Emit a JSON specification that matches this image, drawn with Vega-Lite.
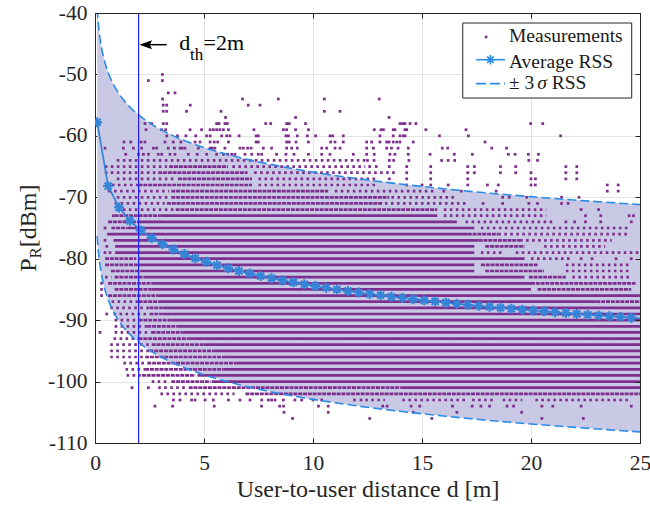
{
  "$schema": "https://vega.github.io/schema/vega-lite/v6.json",
  "width": 545,
  "height": 430,
  "autosize": {"type": "none"},
  "padding": {"left": 95, "top": 13, "right": 10, "bottom": 65},
  "background": "white",
  "config": {
    "view": {"stroke": null},
    "font": "Liberation Serif",
    "axis": {
      "labelFont": "Liberation Serif", "labelFontSize": 21.5, "labelColor": "#262626",
      "titleFont": "Liberation Serif", "titleFontSize": 24, "titleFontWeight": "normal", "titleColor": "#262626",
      "domainColor": "#262626", "domainWidth": 1, "tickColor": "#262626", "tickWidth": 1, "tickSize": -5,
      "gridColor": "#e4e4e4", "gridWidth": 1, "labelFlush": false, "labelOverlap": false
    }
  },
  "resolve": {"axis": {"x": "independent", "y": "independent"}},
  "datasets": {
    "curve": [
      {"x": 0.1, "hi": -39.3, "lo": -76.3},
      {"x": 0.12, "hi": -40.35, "lo": -77.35},
      {"x": 0.15, "hi": -41.64, "lo": -78.64},
      {"x": 0.2, "hi": -43.3, "lo": -80.3},
      {"x": 0.25, "hi": -44.59, "lo": -81.59},
      {"x": 0.3, "hi": -45.65, "lo": -82.65},
      {"x": 0.4, "hi": -47.31, "lo": -84.31},
      {"x": 0.5, "hi": -48.6, "lo": -85.6},
      {"x": 0.6, "hi": -49.65, "lo": -86.65},
      {"x": 0.7, "hi": -50.54, "lo": -87.54},
      {"x": 0.8, "hi": -51.31, "lo": -88.31},
      {"x": 0.9, "hi": -51.99, "lo": -88.99},
      {"x": 1, "hi": -52.6, "lo": -89.6},
      {"x": 1.25, "hi": -53.89, "lo": -90.89},
      {"x": 1.5, "hi": -54.94, "lo": -91.94},
      {"x": 1.75, "hi": -55.83, "lo": -92.83},
      {"x": 2, "hi": -56.6, "lo": -93.6},
      {"x": 2.5, "hi": -57.89, "lo": -94.89},
      {"x": 3, "hi": -58.95, "lo": -95.95},
      {"x": 3.5, "hi": -59.84, "lo": -96.84},
      {"x": 4, "hi": -60.61, "lo": -97.61},
      {"x": 4.5, "hi": -61.29, "lo": -98.29},
      {"x": 5, "hi": -61.9, "lo": -98.9},
      {"x": 6, "hi": -62.95, "lo": -99.95},
      {"x": 7, "hi": -63.84, "lo": -100.84},
      {"x": 8, "hi": -64.61, "lo": -101.61},
      {"x": 9, "hi": -65.29, "lo": -102.29},
      {"x": 10, "hi": -65.9, "lo": -102.9},
      {"x": 12, "hi": -66.95, "lo": -103.95},
      {"x": 14, "hi": -67.84, "lo": -104.84},
      {"x": 16, "hi": -68.61, "lo": -105.61},
      {"x": 18, "hi": -69.3, "lo": -106.3},
      {"x": 20, "hi": -69.9, "lo": -106.9},
      {"x": 22, "hi": -70.45, "lo": -107.45},
      {"x": 25, "hi": -71.19, "lo": -108.19}
    ],
    "avg": [
      {"x": 0.1, "y": -57.8}, {"x": 0.6, "y": -68.15}, {"x": 1.1, "y": -71.65}, {"x": 1.6, "y": -73.81},
      {"x": 2.1, "y": -75.39}, {"x": 2.6, "y": -76.62}, {"x": 3.1, "y": -77.64}, {"x": 3.6, "y": -78.5},
      {"x": 4.1, "y": -79.25}, {"x": 4.6, "y": -79.92}, {"x": 5.1, "y": -80.51}, {"x": 5.6, "y": -81.05},
      {"x": 6.1, "y": -81.54}, {"x": 6.6, "y": -82.0}, {"x": 7.1, "y": -82.42}, {"x": 7.6, "y": -82.81},
      {"x": 8.1, "y": -83.18}, {"x": 8.6, "y": -83.53}, {"x": 9.1, "y": -83.85}, {"x": 9.6, "y": -84.16},
      {"x": 10.1, "y": -84.46}, {"x": 10.6, "y": -84.74}, {"x": 11.1, "y": -85.0}, {"x": 11.6, "y": -85.26},
      {"x": 12.1, "y": -85.5}, {"x": 12.6, "y": -85.74}, {"x": 13.1, "y": -85.96}, {"x": 13.6, "y": -86.18},
      {"x": 14.1, "y": -86.38}, {"x": 14.6, "y": -86.59}, {"x": 15.1, "y": -86.78}, {"x": 15.6, "y": -86.97},
      {"x": 16.1, "y": -87.15}, {"x": 16.6, "y": -87.33}, {"x": 17.1, "y": -87.5}, {"x": 17.6, "y": -87.67},
      {"x": 18.1, "y": -87.83}, {"x": 18.6, "y": -87.98}, {"x": 19.1, "y": -88.14}, {"x": 19.6, "y": -88.29},
      {"x": 20.1, "y": -88.43}, {"x": 20.6, "y": -88.57}, {"x": 21.1, "y": -88.71}, {"x": 21.6, "y": -88.85},
      {"x": 22.1, "y": -88.98}, {"x": 22.6, "y": -89.11}, {"x": 23.1, "y": -89.24}, {"x": 23.6, "y": -89.36},
      {"x": 24.1, "y": -89.48}, {"x": 24.6, "y": -89.6}, {"x": 25, "y": -89.69}
    ],
    "seg": [
      {"v": -64, "a": 1.0, "b": 12.4, "k": "m"},
      {"v": -65, "a": 0.45, "b": 3.3, "k": "m"}, {"v": -65, "a": 3.4, "b": 6.1, "k": "d"}, {"v": -65, "a": 6.3, "b": 12.4, "k": "m"},
      {"v": -66, "a": 0.45, "b": 2.8, "k": "m"}, {"v": -66, "a": 2.9, "b": 7.0, "k": "d"}, {"v": -66, "a": 7.3, "b": 13.8, "k": "m"},
      {"v": -67, "a": 1.0, "b": 3.7, "k": "m"}, {"v": -67, "a": 3.8, "b": 7.2, "k": "d"}, {"v": -67, "a": 7.5, "b": 13.0, "k": "m"},
      {"v": -68, "a": 0.5, "b": 2.0, "k": "m"}, {"v": -68, "a": 2.0, "b": 7.2, "k": "d"}, {"v": -68, "a": 7.5, "b": 12.9, "k": "m"},
      {"v": -69, "a": 0.6, "b": 3.4, "k": "m"}, {"v": -69, "a": 3.5, "b": 10.7, "k": "d"}, {"v": -69, "a": 11.0, "b": 15.6, "k": "m"},
      {"v": -70, "a": 1.0, "b": 3.4, "k": "m"}, {"v": -70, "a": 3.5, "b": 13.5, "k": "d"}, {"v": -70, "a": 13.6, "b": 16.5, "k": "m"},
      {"v": -71, "a": 0.9, "b": 3.2, "k": "m"}, {"v": -71, "a": 3.3, "b": 13.2, "k": "d"}, {"v": -71, "a": 13.3, "b": 17.0, "k": "m"},
      {"v": -72, "a": 1.0, "b": 3.6, "k": "m"}, {"v": -72, "a": 3.7, "b": 15.7, "k": "d"}, {"v": -72, "a": 16.0, "b": 20.7, "k": "m"},
      {"v": -73, "a": 0.9, "b": 3.0, "k": "d"}, {"v": -73, "a": 3.0, "b": 15.7, "k": "s"}, {"v": -73, "a": 16.0, "b": 20.7, "k": "m"},
      {"v": -74, "a": 0.6, "b": 2.0, "k": "d"}, {"v": -74, "a": 2.0, "b": 16.6, "k": "s"}, {"v": -74, "a": 17.0, "b": 21.0, "k": "m"},
      {"v": -75, "a": 0.75, "b": 1.5, "k": "d"}, {"v": -75, "a": 1.5, "b": 17.4, "k": "s"}, {"v": -75, "a": 17.7, "b": 24.5, "k": "m"},
      {"v": -76, "a": 0.55, "b": 17.1, "k": "s"}, {"v": -76, "a": 17.1, "b": 18.5, "k": "d"}, {"v": -76, "a": 18.5, "b": 24.5, "k": "m"},
      {"v": -77, "a": 0.85, "b": 17.6, "k": "s"}, {"v": -77, "a": 17.6, "b": 19.5, "k": "d"}, {"v": -77, "a": 19.5, "b": 23.7, "k": "m"},
      {"v": -78, "a": 0.92, "b": 17.4, "k": "s"}, {"v": -78, "a": 17.9, "b": 19.7, "k": "d"}, {"v": -78, "a": 20.6, "b": 23.4, "k": "m"},
      {"v": -79, "a": 0.92, "b": 17.4, "k": "s"}, {"v": -79, "a": 17.7, "b": 18.8, "k": "m"}, {"v": -79, "a": 19.3, "b": 25, "k": "m"},
      {"v": -80, "a": 0.46, "b": 1.9, "k": "d"}, {"v": -80, "a": 2.0, "b": 19.7, "k": "s"}, {"v": -80, "a": 20.0, "b": 21.9, "k": "m"},
      {"v": -81, "a": 0.46, "b": 2.0, "k": "d"}, {"v": -81, "a": 2.0, "b": 17.4, "k": "s"}, {"v": -81, "a": 17.7, "b": 20.3, "k": "d"}, {"v": -81, "a": 21.6, "b": 24.6, "k": "m"},
      {"v": -82, "a": 0.73, "b": 2.1, "k": "d"}, {"v": -82, "a": 2.1, "b": 17.4, "k": "s"}, {"v": -82, "a": 17.9, "b": 20.6, "k": "d"}, {"v": -82, "a": 21.6, "b": 24.6, "k": "m"},
      {"v": -83, "a": 0.46, "b": 0.76, "k": "m"}, {"v": -83, "a": 0.9, "b": 2.3, "k": "d"}, {"v": -83, "a": 2.3, "b": 19.7, "k": "s"}, {"v": -83, "a": 19.9, "b": 21.6, "k": "d"}, {"v": -83, "a": 21.9, "b": 24.6, "k": "m"},
      {"v": -84, "a": 0.6, "b": 2.7, "k": "d"}, {"v": -84, "a": 2.7, "b": 20.0, "k": "s"}, {"v": -84, "a": 20.0, "b": 24.8, "k": "d"},
      {"v": -85, "a": 0.9, "b": 2.6, "k": "d"}, {"v": -85, "a": 2.6, "b": 20.0, "k": "s"}, {"v": -85, "a": 20.3, "b": 24.6, "k": "d"},
      {"v": -86, "a": 0.6, "b": 2.9, "k": "d"}, {"v": -86, "a": 2.9, "b": 25, "k": "s"},
      {"v": -87, "a": 0.76, "b": 2.0, "k": "m"}, {"v": -87, "a": 2.0, "b": 2.9, "k": "d"}, {"v": -87, "a": 2.9, "b": 23.0, "k": "s"}, {"v": -87, "a": 23.0, "b": 25, "k": "d"},
      {"v": -88, "a": 0.7, "b": 2.5, "k": "m"}, {"v": -88, "a": 2.5, "b": 3.1, "k": "d"}, {"v": -88, "a": 3.1, "b": 25, "k": "s"},
      {"v": -89, "a": 0.85, "b": 2.5, "k": "m"}, {"v": -89, "a": 2.5, "b": 3.1, "k": "d"}, {"v": -89, "a": 3.1, "b": 25, "k": "s"},
      {"v": -90, "a": 0.9, "b": 2.0, "k": "m"}, {"v": -90, "a": 2.0, "b": 3.5, "k": "d"}, {"v": -90, "a": 3.5, "b": 25, "k": "s"},
      {"v": -91, "a": 0.9, "b": 2.4, "k": "m"}, {"v": -91, "a": 2.4, "b": 3.8, "k": "d"}, {"v": -91, "a": 3.8, "b": 25, "k": "s"},
      {"v": -92, "a": 0.9, "b": 2.6, "k": "m"}, {"v": -92, "a": 2.6, "b": 4.0, "k": "d"}, {"v": -92, "a": 4.0, "b": 25, "k": "s"},
      {"v": -93, "a": 0.85, "b": 2.0, "k": "m"}, {"v": -93, "a": 2.0, "b": 4.3, "k": "d"}, {"v": -93, "a": 4.3, "b": 25, "k": "s"},
      {"v": -94, "a": 0.7, "b": 2.5, "k": "m"}, {"v": -94, "a": 2.6, "b": 5.0, "k": "d"}, {"v": -94, "a": 5.0, "b": 25, "k": "s"},
      {"v": -95, "a": 0.7, "b": 2.5, "k": "m"}, {"v": -95, "a": 2.5, "b": 5.5, "k": "d"}, {"v": -95, "a": 5.5, "b": 25, "k": "s"},
      {"v": -96, "a": 0.7, "b": 2.3, "k": "m"}, {"v": -96, "a": 2.3, "b": 6.0, "k": "d"}, {"v": -96, "a": 6.0, "b": 25, "k": "s"},
      {"v": -97, "a": 1.3, "b": 2.3, "k": "m"}, {"v": -97, "a": 2.4, "b": 6.5, "k": "d"}, {"v": -97, "a": 6.5, "b": 25, "k": "s"},
      {"v": -98, "a": 1.4, "b": 2.3, "k": "m"}, {"v": -98, "a": 2.3, "b": 5.9, "k": "d"}, {"v": -98, "a": 5.9, "b": 25, "k": "s"},
      {"v": -99, "a": 1.45, "b": 2.1, "k": "m"}, {"v": -99, "a": 2.15, "b": 4.6, "k": "d"}, {"v": -99, "a": 4.7, "b": 25, "k": "s"},
      {"v": -100, "a": 2.6, "b": 3.4, "k": "m"}, {"v": -100, "a": 3.5, "b": 5.3, "k": "d"}, {"v": -100, "a": 5.35, "b": 25, "k": "s"},
      {"v": -101, "a": 2.9, "b": 4.2, "k": "m"}, {"v": -101, "a": 4.3, "b": 14.0, "k": "d"}, {"v": -101, "a": 14.0, "b": 25, "k": "s"},
      {"v": -102, "a": 3.0, "b": 6.4, "k": "m"}, {"v": -102, "a": 6.9, "b": 25, "k": "d"},
      {"v": -103, "a": 12.4, "b": 13.3, "k": "m"}, {"v": -103, "a": 14.1, "b": 17.0, "k": "m"}, {"v": -103, "a": 17.3, "b": 18.4, "k": "m"}, {"v": -103, "a": 18.7, "b": 19.6, "k": "m"}, {"v": -103, "a": 20.2, "b": 24.6, "k": "m"}
    ],
    "pts": [
      {"v": -50, "x": 3.09},
      {"v": -51, "x": 2.45}, {"v": -51, "x": 3.09},
      {"v": -53, "x": 3.36}, {"v": -53, "x": 3.67},
      {"v": -54, "x": 3.1}, {"v": -54, "x": 6.77}, {"v": -54, "x": 8.41}, {"v": -54, "x": 10.52}, {"v": -54, "x": 13.04},
      {"v": -55, "x": 3.13}, {"v": -55, "x": 3.29}, {"v": -55, "x": 4.37}, {"v": -55, "x": 7.03}, {"v": -55, "x": 7.57},
      {"v": -56, "x": 3.13}, {"v": -56, "x": 3.29}, {"v": -56, "x": 4.2}, {"v": -56, "x": 5.78}, {"v": -56, "x": 10.52}, {"v": -56, "x": 11.24},
      {"v": -57, "x": 5.99}, {"v": -57, "x": 9.2}, {"v": -57, "x": 13.49},
      {"v": -58, "x": 2.29}, {"v": -58, "x": 2.6}, {"v": -58, "x": 3.13}, {"v": -58, "x": 3.29}, {"v": -58, "x": 5.58}, {"v": -58, "x": 5.69}, {"v": -58, "x": 5.96}, {"v": -58, "x": 6.07}, {"v": -58, "x": 7.83}, {"v": -58, "x": 8.06}, {"v": -58, "x": 8.79}, {"v": -58, "x": 8.91}, {"v": -58, "x": 9.66}, {"v": -58, "x": 13.99}, {"v": -58, "x": 14.11}, {"v": -58, "x": 14.22}, {"v": -58, "x": 14.45}, {"v": -58, "x": 14.72}, {"v": -58, "x": 19.98}, {"v": -58, "x": 20.54},
      {"v": -59, "x": 2.34}, {"v": -59, "x": 3.06}, {"v": -59, "x": 3.24}, {"v": -59, "x": 4.36}, {"v": -59, "x": 4.89}, {"v": -59, "x": 5.28}, {"v": -59, "x": 5.43}, {"v": -59, "x": 5.58}, {"v": -59, "x": 5.73}, {"v": -59, "x": 5.89}, {"v": -59, "x": 6.12}, {"v": -59, "x": 7.29}, {"v": -59, "x": 8.64}, {"v": -59, "x": 8.79}, {"v": -59, "x": 9.2}, {"v": -59, "x": 9.79}, {"v": -59, "x": 12.81}, {"v": -59, "x": 13.12}, {"v": -59, "x": 13.23}, {"v": -59, "x": 13.68}, {"v": -59, "x": 13.76}, {"v": -59, "x": 14.22}, {"v": -59, "x": 14.3}, {"v": -59, "x": 15.18}, {"v": -59, "x": 17.02},
      {"v": -60, "x": 3.29}, {"v": -60, "x": 3.78}, {"v": -60, "x": 4.17}, {"v": -60, "x": 4.62}, {"v": -60, "x": 5.12}, {"v": -60, "x": 5.28}, {"v": -60, "x": 5.81}, {"v": -60, "x": 6.04}, {"v": -60, "x": 6.19}, {"v": -60, "x": 6.61}, {"v": -60, "x": 7.39}, {"v": -60, "x": 7.49}, {"v": -60, "x": 8.76}, {"v": -60, "x": 8.87}, {"v": -60, "x": 9.28}, {"v": -60, "x": 9.74}, {"v": -60, "x": 10.12}, {"v": -60, "x": 10.78}, {"v": -60, "x": 10.9}, {"v": -60, "x": 11.39}, {"v": -60, "x": 13.07}, {"v": -60, "x": 13.68}, {"v": -60, "x": 13.99}, {"v": -60, "x": 14.14}, {"v": -60, "x": 14.22}, {"v": -60, "x": 15.8}, {"v": -60, "x": 17.13}, {"v": -60, "x": 21.36},
      {"v": -61, "x": 1.33}, {"v": -61, "x": 1.64}, {"v": -61, "x": 2.11}, {"v": -61, "x": 2.29}, {"v": -61, "x": 3.21}, {"v": -61, "x": 3.59}, {"v": -61, "x": 3.94}, {"v": -61, "x": 4.59}, {"v": -61, "x": 4.82}, {"v": -61, "x": 5.28}, {"v": -61, "x": 5.47}, {"v": -61, "x": 5.63}, {"v": -61, "x": 6.12}, {"v": -61, "x": 7.39}, {"v": -61, "x": 7.49}, {"v": -61, "x": 8.79}, {"v": -61, "x": 8.91}, {"v": -61, "x": 9.22}, {"v": -61, "x": 9.79}, {"v": -61, "x": 10.81}, {"v": -61, "x": 11.01}, {"v": -61, "x": 11.39}, {"v": -61, "x": 12.46}, {"v": -61, "x": 12.69}, {"v": -61, "x": 13.07}, {"v": -61, "x": 13.38}, {"v": -61, "x": 13.49}, {"v": -61, "x": 13.68}, {"v": -61, "x": 13.84}, {"v": -61, "x": 13.99}, {"v": -61, "x": 14.6}, {"v": -61, "x": 17.89},
      {"v": -62, "x": 0.46}, {"v": -62, "x": 1.3}, {"v": -62, "x": 1.76}, {"v": -62, "x": 2.14}, {"v": -62, "x": 2.68}, {"v": -62, "x": 2.83}, {"v": -62, "x": 3.36}, {"v": -62, "x": 3.64}, {"v": -62, "x": 3.9}, {"v": -62, "x": 4.0}, {"v": -62, "x": 4.13}, {"v": -62, "x": 4.74}, {"v": -62, "x": 5.28}, {"v": -62, "x": 5.38}, {"v": -62, "x": 5.5}, {"v": -62, "x": 5.96}, {"v": -62, "x": 6.65}, {"v": -62, "x": 6.8}, {"v": -62, "x": 7.0}, {"v": -62, "x": 7.16}, {"v": -62, "x": 7.72}, {"v": -62, "x": 8.1}, {"v": -62, "x": 8.79}, {"v": -62, "x": 9.02}, {"v": -62, "x": 9.28}, {"v": -62, "x": 10.4}, {"v": -62, "x": 10.63}, {"v": -62, "x": 11.01}, {"v": -62, "x": 11.24}, {"v": -62, "x": 12.46}, {"v": -62, "x": 12.77}, {"v": -62, "x": 13.38}, {"v": -62, "x": 13.6}, {"v": -62, "x": 13.9}, {"v": -62, "x": 14.37}, {"v": -62, "x": 15.93}, {"v": -62, "x": 16.18}, {"v": -62, "x": 18.2}, {"v": -62, "x": 18.88},
      {"v": -63, "x": 1.41}, {"v": -63, "x": 1.99}, {"v": -63, "x": 2.22}, {"v": -63, "x": 2.45}, {"v": -63, "x": 2.9}, {"v": -63, "x": 3.06}, {"v": -63, "x": 3.44}, {"v": -63, "x": 3.67}, {"v": -63, "x": 4.28}, {"v": -63, "x": 4.69}, {"v": -63, "x": 5.12}, {"v": -63, "x": 5.58}, {"v": -63, "x": 5.89}, {"v": -63, "x": 6.09}, {"v": -63, "x": 6.27}, {"v": -63, "x": 6.42}, {"v": -63, "x": 6.88}, {"v": -63, "x": 7.19}, {"v": -63, "x": 7.49}, {"v": -63, "x": 7.65}, {"v": -63, "x": 8.33}, {"v": -63, "x": 8.76}, {"v": -63, "x": 9.13}, {"v": -63, "x": 9.79}, {"v": -63, "x": 10.4}, {"v": -63, "x": 10.78}, {"v": -63, "x": 11.85}, {"v": -63, "x": 12.46}, {"v": -63, "x": 12.81}, {"v": -63, "x": 13.53}, {"v": -63, "x": 13.76}, {"v": -63, "x": 14.37}, {"v": -63, "x": 15.37}, {"v": -63, "x": 16.48}, {"v": -63, "x": 17.31}, {"v": -63, "x": 18.96}, {"v": -63, "x": 19.27}, {"v": -63, "x": 19.88}, {"v": -63, "x": 20.34},
      {"v": -64, "x": 12.5}, {"v": -64, "x": 12.8}, {"v": -64, "x": 13.5}, {"v": -64, "x": 13.7}, {"v": -64, "x": 14.4}, {"v": -64, "x": 15.9}, {"v": -64, "x": 16.2}, {"v": -64, "x": 16.5}, {"v": -64, "x": 19.9}, {"v": -64, "x": 20.3},
      {"v": -65, "x": 12.6}, {"v": -65, "x": 12.9}, {"v": -65, "x": 13.5}, {"v": -65, "x": 14.3}, {"v": -65, "x": 15.4}, {"v": -65, "x": 17.1}, {"v": -65, "x": 17.4}, {"v": -65, "x": 18.6}, {"v": -65, "x": 19.3}, {"v": -65, "x": 21.6}, {"v": -65, "x": 22.1},
      {"v": -66, "x": 14.3}, {"v": -66, "x": 15.4}, {"v": -66, "x": 17.1}, {"v": -66, "x": 17.4}, {"v": -66, "x": 18.6}, {"v": -66, "x": 19.3}, {"v": -66, "x": 20.0}, {"v": -66, "x": 21.6}, {"v": -66, "x": 22.1},
      {"v": -67, "x": 13.5}, {"v": -67, "x": 14.3}, {"v": -67, "x": 15.4}, {"v": -67, "x": 17.1}, {"v": -67, "x": 20.0}, {"v": -67, "x": 20.2}, {"v": -67, "x": 21.6}, {"v": -67, "x": 22.1},
      {"v": -68, "x": 14.3}, {"v": -68, "x": 15.0}, {"v": -68, "x": 15.4}, {"v": -68, "x": 16.2}, {"v": -68, "x": 17.1}, {"v": -68, "x": 18.0}, {"v": -68, "x": 18.5}, {"v": -68, "x": 20.0}, {"v": -68, "x": 20.2}, {"v": -68, "x": 23.5}, {"v": -68, "x": 24.0},
      {"v": -69, "x": 16.0}, {"v": -69, "x": 16.8}, {"v": -69, "x": 18.4}, {"v": -69, "x": 23.5}, {"v": -69, "x": 24.0},
      {"v": -70, "x": 18.7}, {"v": -70, "x": 19.0}, {"v": -70, "x": 19.8}, {"v": -70, "x": 21.4}, {"v": -70, "x": 22.2},
      {"v": -71, "x": 17.8}, {"v": -71, "x": 18.7}, {"v": -71, "x": 19.9}, {"v": -71, "x": 20.3}, {"v": -71, "x": 21.4}, {"v": -71, "x": 21.7},
      {"v": -72, "x": 22.3}, {"v": -72, "x": 23.1},
      {"v": -73, "x": 0.84}, {"v": -73, "x": 22.5}, {"v": -73, "x": 23.2}, {"v": -73, "x": 24.5}, {"v": -73, "x": 24.7},
      {"v": -74, "x": 21.6}, {"v": -74, "x": 22.0}, {"v": -74, "x": 22.5}, {"v": -74, "x": 23.2}, {"v": -74, "x": 24.6},
      {"v": -75, "x": 0.46}, {"v": -77, "x": 0.46}, {"v": -78, "x": 0.54}, {"v": -79, "x": 0.46}, {"v": -79, "x": 0.69},
      {"v": -80, "x": 22.3}, {"v": -80, "x": 22.8}, {"v": -80, "x": 23.9}, {"v": -80, "x": 24.6},
      {"v": -84, "x": 0.3}, {"v": -85, "x": 0.3}, {"v": -86, "x": 0.3}, {"v": -89, "x": 0.54}, {"v": -92, "x": 0.23},
      {"v": -101, "x": 1.7}, {"v": -101, "x": 2.45},
      {"v": -103, "x": 3.6}, {"v": -103, "x": 3.9}, {"v": -103, "x": 4.43}, {"v": -103, "x": 4.59}, {"v": -103, "x": 5.05}, {"v": -103, "x": 5.43}, {"v": -103, "x": 6.12}, {"v": -103, "x": 6.65}, {"v": -103, "x": 7.11}, {"v": -103, "x": 7.65}, {"v": -103, "x": 7.95}, {"v": -103, "x": 8.1}, {"v": -103, "x": 8.26}, {"v": -103, "x": 8.64}, {"v": -103, "x": 9.17}, {"v": -103, "x": 9.48}, {"v": -103, "x": 10.0}, {"v": -103, "x": 10.4}, {"v": -103, "x": 11.9}, {"v": -103, "x": 12.2},
      {"v": -104, "x": 2.75}, {"v": -104, "x": 3.56}, {"v": -104, "x": 5.47}, {"v": -104, "x": 7.64}, {"v": -104, "x": 8.47}, {"v": -104, "x": 8.65}, {"v": -104, "x": 10.25}, {"v": -104, "x": 10.7}, {"v": -104, "x": 13.2}, {"v": -104, "x": 13.4}, {"v": -104, "x": 14.5}, {"v": -104, "x": 14.9}, {"v": -104, "x": 16.4}, {"v": -104, "x": 17.3}, {"v": -104, "x": 17.7}, {"v": -104, "x": 18.1}, {"v": -104, "x": 18.9}, {"v": -104, "x": 19.2}, {"v": -104, "x": 20.5}, {"v": -104, "x": 21.0}, {"v": -104, "x": 22.3}, {"v": -104, "x": 24.6},
      {"v": -105, "x": 8.67}, {"v": -105, "x": 10.7}, {"v": -105, "x": 14.6}, {"v": -105, "x": 16.6}, {"v": -105, "x": 19.57},
      {"v": -106, "x": 9.06}, {"v": -106, "x": 12.6}, {"v": -106, "x": 15.45}, {"v": -106, "x": 20.5}, {"v": -106, "x": 22.4}
    ]
  },
  "layer": [
    {
      "data": {"name": "curve"},
      "mark": {"type": "area", "color": "#c9c9e5", "clip": true, "interpolate": "monotone", "opacity": 1},
      "encoding": {
        "x": {"field": "x", "type": "quantitative", "scale": {"domain": [0, 25], "nice": false, "zero": false},
              "axis": {"orient": "bottom", "values": [0, 5, 10, 15, 20, 25], "title": "User-to-user distance d [m]", "grid": true, "labelPadding": 14, "titlePadding": 4}},
        "y": {"field": "hi", "type": "quantitative", "scale": {"domain": [-110, -40], "nice": false, "zero": false},
              "axis": {"orient": "left", "values": [-110, -100, -90, -80, -70, -60, -50, -40], "title": null, "grid": true, "labelPadding": 13, "labelExpr": "replace(datum.label, '\u2212', '-')"}},
        "y2": {"field": "lo"}
      }
    },
    {
      "data": {"name": "seg"},
      "mark": {"type": "rule", "color": "#7E2F8E", "strokeWidth": 2.7, "clip": true},
      "encoding": {
        "x": {"field": "a", "type": "quantitative", "axis": null},
        "x2": {"field": "b"},
        "y": {"field": "v", "type": "quantitative", "axis": null},
        "strokeDash": {"field": "k", "type": "nominal", "scale": {"domain": ["s", "d", "m"], "range": [[1, 0], [4, 0.8], [2.6, 3.4]]}, "legend": null}
      }
    },
    {
      "data": {"name": "pts"},
      "mark": {"type": "square", "color": "#7E2F8E", "size": 7.5, "opacity": 1, "clip": true},
      "encoding": {
        "x": {"field": "x", "type": "quantitative", "axis": null},
        "y": {"field": "v", "type": "quantitative", "axis": null}
      }
    },
    {
      "data": {"name": "curve"},
      "mark": {"type": "line", "color": "#2b8ce8", "strokeWidth": 1.6, "strokeDash": [9, 4], "clip": true, "interpolate": "monotone"},
      "encoding": {
        "x": {"field": "x", "type": "quantitative", "axis": null},
        "y": {"field": "hi", "type": "quantitative", "axis": null}
      }
    },
    {
      "data": {"name": "curve"},
      "mark": {"type": "line", "color": "#2b8ce8", "strokeWidth": 1.6, "strokeDash": [9, 4], "clip": true, "interpolate": "monotone"},
      "encoding": {
        "x": {"field": "x", "type": "quantitative", "axis": null},
        "y": {"field": "lo", "type": "quantitative", "axis": null}
      }
    },
    {
      "data": {"name": "avg"},
      "mark": {"type": "line", "color": "#3584d8", "strokeWidth": 1.7, "clip": true},
      "encoding": {
        "x": {"field": "x", "type": "quantitative", "axis": null},
        "y": {"field": "y", "type": "quantitative", "axis": null}
      }
    },
    {
      "data": {"name": "avg"},
      "transform": [{"filter": "datum.x < 24.9"}],
      "mark": {"type": "point", "shape": "M0,-1L0,1M-1,0L1,0M-0.7,-0.7L0.7,0.7M-0.7,0.7L0.7,-0.7", "size": 100, "filled": false, "color": "#3584d8", "strokeWidth": 2.2, "opacity": 1, "clip": true},
      "encoding": {
        "x": {"field": "x", "type": "quantitative", "axis": null},
        "y": {"field": "y", "type": "quantitative", "axis": null}
      }
    },
    {
      "data": {"values": [{"x": 2}]},
      "mark": {"type": "rule", "color": "#1f1fff", "strokeWidth": 1.2},
      "encoding": {
        "x": {"field": "x", "type": "quantitative", "axis": null}
      }
    },
    {
      "data": {"values": [{"x": 2.15, "x2": 3.29, "y": -45.16}]},
      "mark": {"type": "rule", "color": "black", "strokeWidth": 1.5},
      "encoding": {
        "x": {"field": "x", "type": "quantitative", "axis": null},
        "x2": {"field": "x2"},
        "y": {"field": "y", "type": "quantitative", "axis": null}
      }
    },
    {
      "data": {"values": [{"x": 2.04, "y": -45.16}]},
      "mark": {"type": "point", "shape": "M2.8,-1L0,0L2.8,1L2.3,0Z", "size": 81, "filled": true, "color": "black", "opacity": 1},
      "encoding": {
        "x": {"field": "x", "type": "quantitative", "axis": null},
        "y": {"field": "y", "type": "quantitative", "axis": null}
      }
    },
    {
      "data": {"values": [{"t": "d", "x": 3.87, "y": -45.98}, {"t": "=2m", "x": 4.98, "y": -45.98}]},
      "mark": {"type": "text", "font": "Liberation Serif", "fontSize": 22, "align": "left", "baseline": "alphabetic", "color": "black"},
      "encoding": {
        "x": {"field": "x", "type": "quantitative", "axis": null},
        "y": {"field": "y", "type": "quantitative", "axis": null},
        "text": {"field": "t"}
      }
    },
    {
      "data": {"values": [{"t": "th", "x": 4.36, "y": -47.72}]},
      "mark": {"type": "text", "font": "Liberation Serif", "fontSize": 17, "align": "left", "baseline": "alphabetic", "color": "black"},
      "encoding": {
        "x": {"field": "x", "type": "quantitative", "axis": null},
        "y": {"field": "y", "type": "quantitative", "axis": null},
        "text": {"field": "t"}
      }
    },
    {
      "data": {"values": [{"x1": 16.87, "x2": 24.62, "y1": -41.63, "y2": -53.84}]},
      "mark": {"type": "rect", "fill": "white", "stroke": "#262626", "strokeWidth": 1},
      "encoding": {
        "x": {"field": "x1", "type": "quantitative",
              "axis": {"orient": "top", "labels": false, "title": null, "grid": false, "values": [0, 5, 10, 15, 20, 25], "zindex": 1}},
        "x2": {"field": "x2"},
        "y": {"field": "y1", "type": "quantitative",
              "axis": {"orient": "right", "labels": false, "title": null, "grid": false, "values": [-110, -100, -90, -80, -70, -60, -50, -40], "zindex": 1}},
        "y2": {"field": "y2"}
      }
    },
    {
      "data": {"values": [{"x": 17.94, "y": -43.9}]},
      "mark": {"type": "square", "color": "#7E2F8E", "size": 7, "opacity": 1},
      "encoding": {
        "x": {"field": "x", "type": "quantitative", "axis": null},
        "y": {"field": "y", "type": "quantitative", "axis": null}
      }
    },
    {
      "data": {"values": [{"x": 17.48, "x2": 18.81, "y": -47.6}]},
      "mark": {"type": "rule", "color": "#2b8ce8", "strokeWidth": 1.6},
      "encoding": {
        "x": {"field": "x", "type": "quantitative", "axis": null},
        "x2": {"field": "x2"},
        "y": {"field": "y", "type": "quantitative", "axis": null}
      }
    },
    {
      "data": {"values": [{"x": 18.14, "y": -47.6}]},
      "mark": {"type": "point", "shape": "M0,-1L0,1M-1,0L1,0M-0.7,-0.7L0.7,0.7M-0.7,0.7L0.7,-0.7", "size": 90, "filled": false, "color": "#2b8ce8", "strokeWidth": 1.6, "opacity": 1},
      "encoding": {
        "x": {"field": "x", "type": "quantitative", "axis": null},
        "y": {"field": "y", "type": "quantitative", "axis": null}
      }
    },
    {
      "data": {"values": [{"x": 17.48, "x2": 18.81, "y": -51.5}]},
      "mark": {"type": "rule", "color": "#2b8ce8", "strokeWidth": 1.6, "strokeDash": [10, 4]},
      "encoding": {
        "x": {"field": "x", "type": "quantitative", "axis": null},
        "x2": {"field": "x2"},
        "y": {"field": "y", "type": "quantitative", "axis": null}
      }
    },
    {
      "data": {"values": [
        {"t": "Measurements", "x": 18.99, "y": -43.8},
        {"t": "Average RSS", "x": 18.99, "y": -47.9},
        {"t": "\u00b1 3", "x": 18.99, "y": -51.4},
        {"t": "RSS", "x": 20.95, "y": -51.4}
      ]},
      "mark": {"type": "text", "font": "Liberation Serif", "fontSize": 19.5, "align": "left", "baseline": "middle", "color": "#1a1a1a"},
      "encoding": {
        "x": {"field": "x", "type": "quantitative", "axis": null},
        "y": {"field": "y", "type": "quantitative", "axis": null},
        "text": {"field": "t"}
      }
    },
    {
      "data": {"values": [{"t": "\u03c3", "x": 20.29, "y": -51.4}]},
      "mark": {"type": "text", "font": "Liberation Serif", "fontSize": 19.5, "fontStyle": "italic", "align": "left", "baseline": "middle", "color": "#1a1a1a"},
      "encoding": {
        "x": {"field": "x", "type": "quantitative", "axis": null},
        "y": {"field": "y", "type": "quantitative", "axis": null},
        "text": {"field": "t"}
      }
    },
    {
      "data": {"values": [{"t": "P", "x": -2.706, "y": -82.13}, {"t": "[dBm]", "x": -2.706, "y": -78.13}]},
      "mark": {"type": "text", "font": "Liberation Serif", "fontSize": 24, "angle": 270, "align": "left", "baseline": "alphabetic", "color": "#262626"},
      "encoding": {
        "x": {"field": "x", "type": "quantitative", "axis": null},
        "y": {"field": "y", "type": "quantitative", "axis": null},
        "text": {"field": "t"}
      }
    },
    {
      "data": {"values": [{"t": "R", "x": -2.477, "y": -79.97}]},
      "mark": {"type": "text", "font": "Liberation Serif", "fontSize": 17, "angle": 270, "align": "left", "baseline": "alphabetic", "color": "#262626"},
      "encoding": {
        "x": {"field": "x", "type": "quantitative", "axis": null},
        "y": {"field": "y", "type": "quantitative", "axis": null},
        "text": {"field": "t"}
      }
    }
  ]
}
